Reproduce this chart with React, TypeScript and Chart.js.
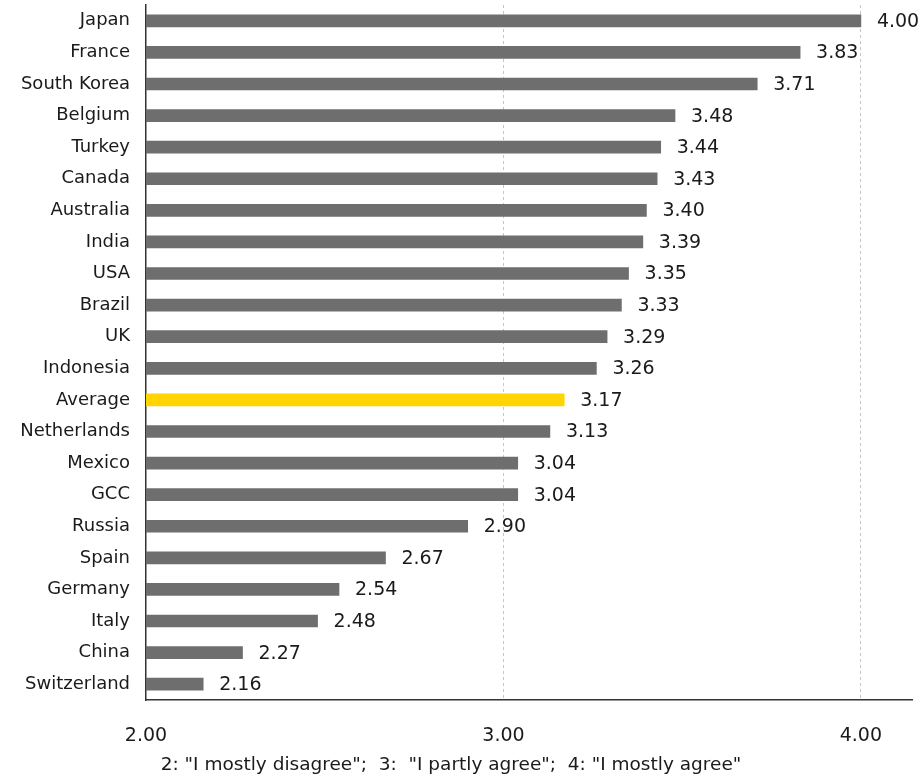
import React, { useEffect, useRef } from "react";
import { Chart, registerables } from "chart.js";

Chart.register(...registerables);

const countries = [
  "Japan", "France", "South Korea", "Belgium", "Turkey", "Canada", "Australia",
  "India", "USA", "Brazil", "UK", "Indonesia", "Average", "Netherlands", "Mexico",
  "GCC", "Russia", "Spain", "Germany", "Italy", "China", "Switzerland",
];
const scores = [
  4.0, 3.83, 3.71, 3.48, 3.44, 3.43, 3.4, 3.39, 3.35, 3.33, 3.29, 3.26, 3.17,
  3.13, 3.04, 3.04, 2.9, 2.67, 2.54, 2.48, 2.27, 2.16,
];
const xTicks = [2, 3, 4];
const axisTitle = '2: "I mostly disagree";  3:  "I partly agree";  4: "I mostly agree"';

const FONT = "'DejaVu Sans', Verdana, sans-serif";
const BAR = "#6e6e6e";
const HIGHLIGHT = "#ffd400";

const valueLabels = {
  id: "valueLabels",
  afterDatasetsDraw(chart: any) {
    const ctx = chart.ctx;
    const meta = chart.getDatasetMeta(0);
    ctx.save();
    ctx.font = `19px ${FONT}`;
    ctx.fillStyle = "#1a1a1a";
    ctx.textAlign = "left";
    ctx.textBaseline = "middle";
    meta.data.forEach((el: any, i: number) => {
      ctx.fillText(scores[i].toFixed(2), el.x + 16, el.y + 1);
    });
    ctx.restore();
  },
};

const bottomNote = {
  id: "bottomNote",
  afterDraw(chart: any) {
    const ctx = chart.ctx;
    ctx.save();
    ctx.font = `18.5px ${FONT}`;
    ctx.fillStyle = "#1a1a1a";
    ctx.textAlign = "center";
    ctx.textBaseline = "middle";
    ctx.fillText(axisTitle, 451, 765);
    ctx.restore();
  },
};

export default function App() {
  const ref = useRef<HTMLCanvasElement>(null);
  useEffect(() => {
    if (!ref.current) return;
    const chart = new Chart(ref.current, {
      type: "bar",
      data: {
        labels: countries,
        datasets: [
          {
            data: scores,
            backgroundColor: countries.map((c) => (c === "Average" ? HIGHLIGHT : BAR)),
            barThickness: 12,
            borderWidth: 0,
          },
        ],
      },
      options: {
        indexAxis: "y",
        animation: false,
        responsive: false,
        maintainAspectRatio: false,
        layout: { padding: { top: 5, right: 10, bottom: 0, left: 0 } },
        plugins: {
          legend: { display: false },
          tooltip: { enabled: false },
        },
        scales: {
          x: {
            min: 2,
            max: 4.143,
            afterBuildTicks: (scale: any) => {
              scale.ticks = xTicks.map((v) => ({ value: v }));
            },
            afterFit: (scale: any) => {
              scale.height = 83;
              scale.paddingLeft = 0;
              scale.paddingRight = 0;
            },
            grid: {
              drawTicks: false,
              color: (ctx: any) => (ctx.tick && ctx.tick.value === 2 ? "rgba(0,0,0,0)" : "#c4c4c4"),
              lineWidth: 1,
            },
            border: { display: true, color: "#333", width: 1.5, dash: [3, 3] },
            ticks: {
              padding: 25,
              color: "#1a1a1a",
              font: { family: FONT, size: 19 },
              callback: (v: any) => Number(v).toFixed(2),
            },
            title: { display: false },
          },
          y: {
            afterFit: (scale: any) => {
              scale.width = 146;
              scale.paddingTop = 0;
              scale.paddingBottom = 0;
            },
            grid: { display: false, drawTicks: false },
            border: { display: true, color: "#333", width: 1.5 },
            ticks: {
              padding: 16,
              color: "#1a1a1a",
              font: { family: FONT, size: 18 },
              autoSkip: false,
            },
          },
        },
      },
      plugins: [valueLabels, bottomNote],
    });
    return () => chart.destroy();
  }, []);
  return (
    <div style={{ position: "fixed", left: 0, top: 0, width: 922, height: 783, background: "#fff" }}>
      <canvas ref={ref} width={922} height={783} style={{ display: "block" }} />
    </div>
  );
}
